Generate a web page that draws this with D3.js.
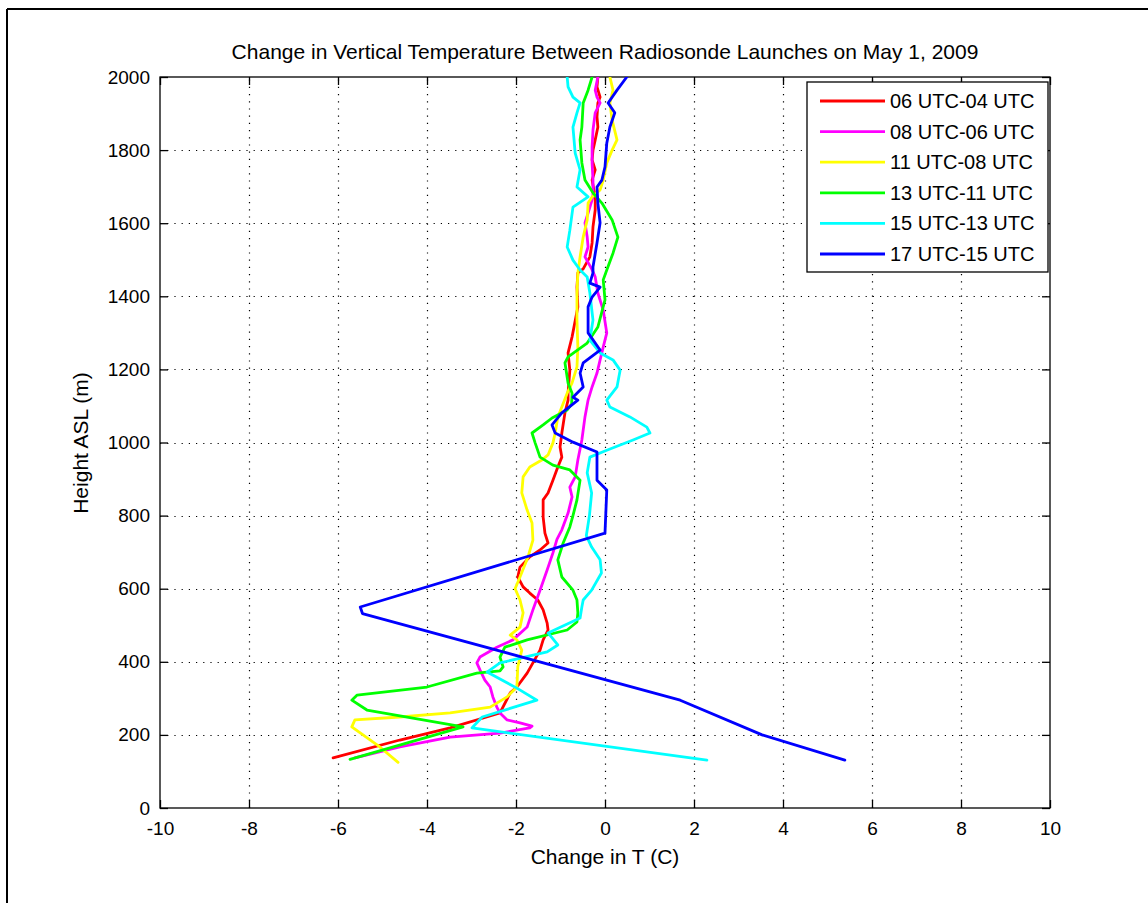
<!DOCTYPE html>
<html><head><meta charset="utf-8">
<script src="https://cdn.jsdelivr.net/npm/d3@7"></script>
<style>
html,body{margin:0;padding:0;background:#fff;}
svg{display:block;}
text{font-family:"Liberation Sans",Arial,sans-serif;fill:#000;}
</style></head>
<body>
<svg id="chart" width="1148" height="903"></svg>
<script>
const title = "Change in Vertical Temperature Between Radiosonde Launches on May 1, 2009";
const xLabel = "Change in T (C)";
const yLabel = "Height ASL (m)";
const xTicks = [-10,-8,-6,-4,-2,0,2,4,6,8,10];
const yTicks = [0,200,400,600,800,1000,1200,1400,1600,1800,2000];
const seriesNames = ["06 UTC-04 UTC","08 UTC-06 UTC","11 UTC-08 UTC","13 UTC-11 UTC","15 UTC-13 UTC","17 UTC-15 UTC"];
const seriesColors = ["#ff0000","#ff00ff","#ffff00","#00ff00","#00ffff","#0000ff"];

// [change in T (C), height (m)]
const red = [[-6.11,137],[-4.61,186],[-3.48,219],[-2.36,260],[-2.13,315],[-1.98,331],[-1.75,369],[-1.62,397],[-1.46,432],[-1.39,460],[-1.28,487],[-1.30,506],[-1.39,542],[-1.51,569],[-1.69,588],[-1.84,605],[-1.96,632],[-1.91,659],[-1.69,687],[-1.46,706],[-1.28,725],[-1.35,752],[-1.39,796],[-1.39,843],[-1.28,862],[-1.17,897],[-1.06,933],[-0.97,960],[-1.01,988],[-0.97,1026],[-0.90,1081],[-0.83,1116],[-0.83,1135],[-0.79,1198],[-0.83,1245],[-0.74,1289],[-0.61,1371],[-0.63,1425],[-0.61,1464],[-0.49,1475],[-0.34,1508],[-0.29,1546],[-0.27,1590],[-0.22,1636],[-0.22,1672],[-0.29,1718],[-0.22,1746],[-0.29,1773],[-0.27,1800],[-0.22,1828],[-0.16,1863],[-0.18,1891],[-0.16,1929],[-0.11,1945],[-0.18,1973],[-0.16,2000]];
const magenta = [[-5.62,137],[-4.61,167],[-3.48,194],[-2.36,205],[-1.69,219],[-1.64,224],[-1.91,233],[-2.20,241],[-2.36,260],[-2.43,276],[-2.52,304],[-2.58,331],[-2.70,350],[-2.81,378],[-2.88,397],[-2.81,413],[-2.43,440],[-2.07,460],[-1.75,495],[-1.62,542],[-1.46,596],[-1.30,651],[-1.17,698],[-1.08,735],[-0.97,761],[-0.83,807],[-0.74,851],[-0.79,878],[-0.67,906],[-0.61,952],[-0.52,1007],[-0.45,1070],[-0.38,1116],[-0.29,1152],[-0.18,1190],[-0.11,1226],[-0.04,1261],[0.04,1300],[-0.04,1362],[-0.16,1409],[-0.22,1453],[-0.30,1475],[-0.45,1508],[-0.38,1535],[-0.40,1562],[-0.45,1601],[-0.38,1628],[-0.27,1672],[-0.27,1718],[-0.29,1765],[-0.29,1808],[-0.27,1855],[-0.22,1902],[-0.11,1929],[-0.18,1945],[-0.22,1964],[-0.16,2000]];
const yellow = [[-4.65,125],[-5.06,167],[-5.69,222],[-5.62,241],[-4.61,249],[-3.48,260],[-2.58,276],[-2.20,304],[-1.98,331],[-1.96,386],[-1.87,432],[-1.98,460],[-2.13,473],[-1.91,495],[-1.84,534],[-1.91,569],[-2.02,600],[-1.91,632],[-1.73,687],[-1.62,733],[-1.64,780],[-1.75,815],[-1.87,862],[-1.84,906],[-1.69,933],[-1.42,952],[-1.28,966],[-1.17,999],[-1.12,1026],[-1.06,1070],[-0.97,1097],[-0.85,1135],[-0.74,1163],[-0.63,1207],[-0.61,1261],[-0.63,1335],[-0.63,1409],[-0.61,1464],[-0.56,1508],[-0.49,1562],[-0.40,1609],[-0.38,1655],[-0.29,1672],[-0.11,1691],[-0.04,1718],[0.04,1765],[0.16,1800],[0.27,1828],[0.16,1882],[0.11,1929],[0.18,1964],[0.11,2000]];
const green = [[-5.73,133],[-3.19,222],[-5.35,268],[-5.69,295],[-5.57,309],[-4.00,331],[-2.88,369],[-2.36,375],[-2.29,386],[-2.36,413],[-2.25,440],[-1.75,460],[-0.85,487],[-0.63,509],[-0.61,534],[-0.63,569],[-0.72,596],[-0.97,632],[-1.06,679],[-0.94,725],[-0.79,769],[-0.72,800],[-0.63,843],[-0.56,897],[-0.79,925],[-1.17,938],[-1.46,960],[-1.57,999],[-1.64,1026],[-1.39,1048],[-1.19,1067],[-0.85,1089],[-0.75,1105],[-0.74,1135],[-0.83,1163],[-0.90,1218],[-0.83,1234],[-0.40,1272],[-0.16,1316],[0.00,1390],[-0.04,1445],[0.04,1472],[0.18,1518],[0.29,1562],[0.16,1609],[-0.07,1655],[-0.27,1683],[-0.45,1718],[-0.52,1765],[-0.56,1828],[-0.52,1863],[-0.49,1929],[-0.38,1964],[-0.29,2000]];
const cyan = [[2.29,131],[-2.99,219],[-2.76,249],[-1.53,295],[-1.98,328],[-2.65,372],[-2.36,397],[-1.30,427],[-1.06,446],[-1.28,479],[-0.56,520],[-0.52,550],[-0.49,569],[-0.30,596],[-0.08,643],[-0.11,679],[-0.30,714],[-0.42,745],[-0.35,800],[-0.30,862],[-0.40,917],[-0.34,960],[0.04,979],[0.63,1007],[1.01,1026],[0.94,1042],[0.56,1070],[0.11,1097],[0.04,1116],[0.27,1152],[0.34,1198],[0.18,1226],[-0.11,1245],[-0.34,1280],[-0.27,1335],[-0.34,1409],[-0.40,1453],[-0.56,1472],[-0.72,1499],[-0.85,1535],[-0.79,1581],[-0.72,1644],[-0.38,1672],[-0.63,1699],[-0.56,1746],[-0.67,1792],[-0.72,1863],[-0.63,1902],[-0.56,1929],[-0.72,1945],[-0.83,1973],[-0.85,2000]];
const blue = [[5.39,131],[3.53,200],[1.69,295],[-5.45,532],[-5.50,550],[0.00,752],[0.04,870],[-0.18,897],[-0.18,974],[-0.72,1001],[-1.12,1026],[-1.19,1048],[-0.97,1081],[-0.61,1116],[-0.72,1124],[-0.49,1152],[-0.56,1190],[-0.49,1218],[-0.11,1253],[-0.38,1300],[-0.38,1371],[-0.29,1398],[-0.11,1425],[-0.34,1436],[-0.27,1464],[-0.27,1480],[-0.18,1546],[-0.11,1601],[-0.16,1655],[-0.18,1699],[-0.07,1718],[0.00,1754],[0.04,1819],[0.11,1863],[0.22,1902],[0.07,1929],[0.27,1964],[0.49,2000]];
const seriesData = [red, magenta, yellow, green, cyan, blue];

const svg = d3.select("#chart");
const L = 160, R = 1050, T = 77, B = 808;
const x = d3.scaleLinear().domain([-10,10]).range([L,R]);
const y = d3.scaleLinear().domain([0,2000]).range([B,T]);
const FS = 19;
const fmt = d => String(d);

// figure border (partial frame)
svg.append("line").attr("x1",7).attr("x2",1148).attr("y1",9).attr("y2",9).attr("stroke","#000").attr("stroke-width",2);
svg.append("line").attr("x1",7).attr("x2",7).attr("y1",9).attr("y2",903).attr("stroke","#000").attr("stroke-width",2);

// grid
const grid = svg.append("g").attr("stroke","#000").attr("stroke-width",1.2).attr("stroke-dasharray","1.2,6");
xTicks.slice(1,-1).forEach(t=>{
  grid.append("line").attr("x1",Math.round(x(t))+0.5).attr("x2",Math.round(x(t))+0.5).attr("y1",B).attr("y2",T);
});
yTicks.slice(1,-1).forEach(t=>{
  grid.append("line").attr("x1",L).attr("x2",R).attr("y1",Math.round(y(t))+0.5).attr("y2",Math.round(y(t))+0.5);
});

// axes with inward ticks
const tk = 8;
const xb = d3.axisBottom(x).tickValues(xTicks).tickSize(-tk).tickPadding(tk+6).tickFormat(fmt);
const xt = d3.axisTop(x).tickValues(xTicks).tickSize(-tk).tickFormat("");
const yl = d3.axisLeft(y).tickValues(yTicks).tickSize(-tk).tickPadding(10).tickFormat(fmt);
const yr = d3.axisRight(y).tickValues(yTicks).tickSize(-tk).tickFormat("");
function style(g){
  g.select(".domain").attr("stroke","#000").attr("stroke-width",1.3);
  g.selectAll(".tick line").attr("stroke","#000").attr("stroke-width",1.3);
  g.selectAll(".tick text").attr("font-size",FS).attr("font-family","Liberation Sans, Arial, sans-serif").attr("fill","#000");
}
svg.append("g").attr("transform",`translate(0,${B})`).call(xb).call(style);
svg.append("g").attr("transform",`translate(0,${T})`).call(xt).call(style);
svg.append("g").attr("transform",`translate(${L},0)`).call(yl).call(style);
svg.append("g").attr("transform",`translate(${R},0)`).call(yr).call(style);
svg.selectAll(".domain").attr("d", null);
svg.append("rect").attr("x",L).attr("y",T).attr("width",R-L).attr("height",B-T).attr("fill","none").attr("stroke","#000").attr("stroke-width",1.3);

// clip
svg.append("clipPath").attr("id","clip").append("rect").attr("x",L).attr("y",T).attr("width",R-L).attr("height",B-T);

// lines
const line = d3.line().x(d=>x(d[0])).y(d=>y(d[1]));
const lg = svg.append("g").attr("clip-path","url(#clip)");
seriesData.forEach((s,i)=>{
  lg.append("path").datum(s).attr("d",line).attr("fill","none").attr("stroke",seriesColors[i]).attr("stroke-width",2.8).attr("stroke-linejoin","round").attr("stroke-linecap","round");
});

// title & labels
svg.append("text").attr("x",605).attr("y",59).attr("text-anchor","middle").attr("font-size",21).text(title);
svg.append("text").attr("x",605).attr("y",864).attr("text-anchor","middle").attr("font-size",21).text(xLabel);
svg.append("text").attr("transform","translate(88,443) rotate(-90)").attr("text-anchor","middle").attr("font-size",21).text(yLabel);

// legend
const leg = svg.append("g");
leg.append("rect").attr("x",807).attr("y",82).attr("width",241).attr("height",190).attr("fill","#fff").attr("stroke","#000").attr("stroke-width",1.3);
seriesNames.forEach((n,i)=>{
  const yy = 101 + i*30.6;
  leg.append("line").attr("x1",820).attr("x2",885).attr("y1",yy).attr("y2",yy).attr("stroke",seriesColors[i]).attr("stroke-width",2.8);
  leg.append("text").attr("x",890).attr("y",yy+7).attr("font-size",20).text(n);
});
</script>
</body></html>
